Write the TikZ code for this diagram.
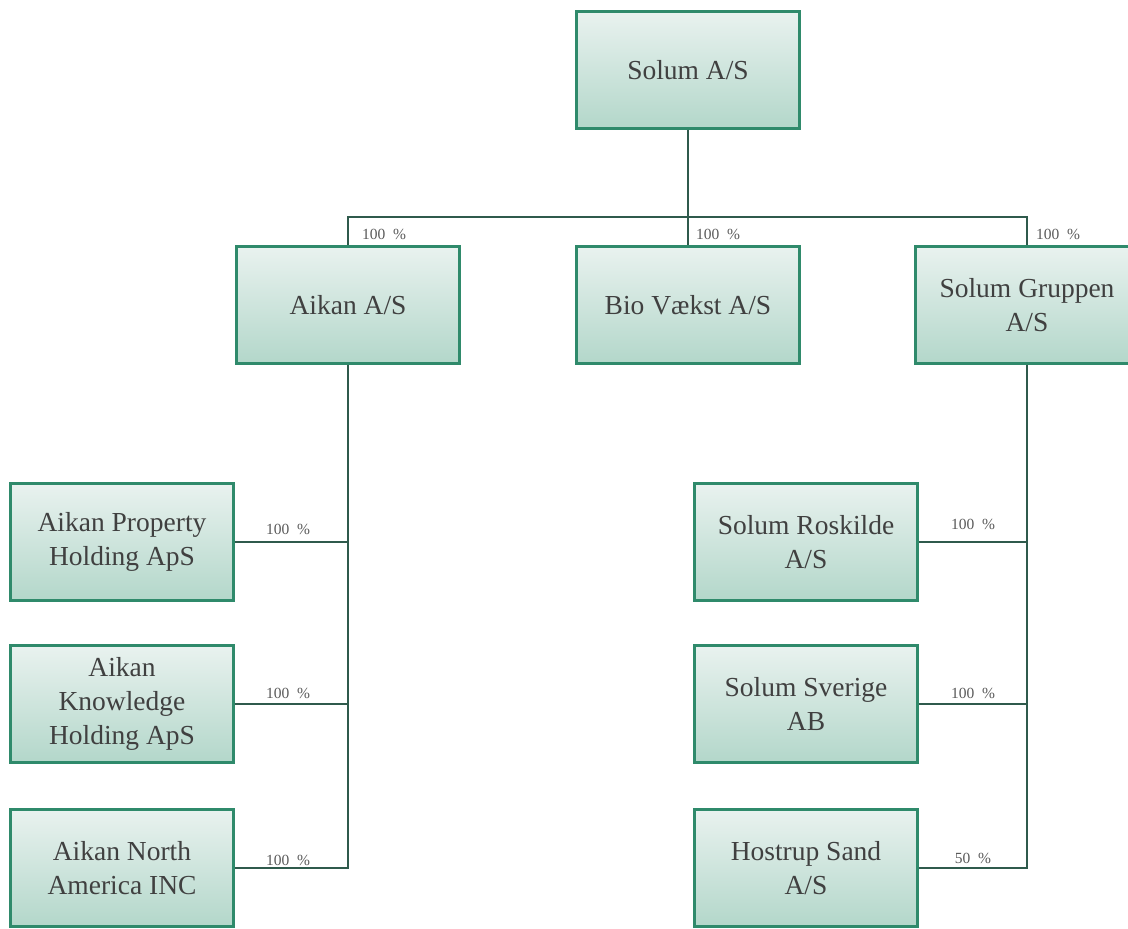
\documentclass[tikz,border=0pt]{standalone}
\usepackage{fontspec}
\setmainfont{Liberation Serif}
\definecolor{boxline}{HTML}{2F8A6B}
\definecolor{boxtop}{HTML}{E9F2EF}
\definecolor{boxbot}{HTML}{B3D7CA}
\definecolor{conncol}{HTML}{2F5A4C}
\definecolor{txtcol}{HTML}{404040}
\definecolor{labcol}{HTML}{5A5A5A}
\tikzset{
  orgbox/.style={draw=boxline, line width=2.4pt, top color=boxtop, bottom color=boxbot,
    minimum width=223pt, minimum height=117pt, inner sep=0pt, align=center,
    text=txtcol, font=\fontsize{27.5}{34}\selectfont},
  conn/.style={draw=conncol, line width=1.5pt},
  pct/.style={text=labcol, font=\fontsize{15.5}{17}\selectfont, inner sep=0pt}
}
\begin{document}
\begin{tikzpicture}[x=1pt,y=-1pt]
\useasboundingbox[fill=white] (0,0) rectangle (1128,929);
\coordinate (bar) at (688,217);
\node[orgbox] (solum) at (688,70) {Solum A/S};
\node[orgbox] (aikan) at (348,305) {Aikan A/S};
\node[orgbox] (bio) at (688,305) {Bio Vækst A/S};
\node[orgbox] (grp) at (1027,305) {Solum Gruppen\\A/S};
\node[orgbox] (a1) at (122,542) {Aikan Property\\Holding ApS};
\node[orgbox] (a2) at (122,704) {Aikan\\Knowledge\\Holding ApS};
\node[orgbox] (a3) at (122,868) {Aikan North\\America INC};
\node[orgbox] (s1) at (806,542) {Solum Roskilde\\A/S};
\node[orgbox] (s2) at (806,704) {Solum Sverige\\AB};
\node[orgbox] (s3) at (806,868) {Hostrup Sand\\A/S};
\begin{scope}[conn]
\draw (solum.south) -- (bio.north);
\draw (aikan.north) |- (bar) -| (grp.north);
\draw (aikan.south) |- (a3.east);
\draw (a1.east) -- (a1.east -| aikan.south);
\draw (a2.east) -- (a2.east -| aikan.south);
\draw (grp.south) |- (s3.east);
\draw (s1.east) -- (s1.east -| grp.south);
\draw (s2.east) -- (s2.east -| grp.south);
\end{scope}
\node[pct, anchor=west] (p1) at (362,234) {100\ \ \%};
\node[pct, anchor=west] (p2) at (696,234) {100\ \ \%};
\node[pct, anchor=west] (p3) at (1036,234) {100\ \ \%};
\node[pct] (pa1) at (288,529) {100\ \ \%};
\node[pct] (pa2) at (288,693) {100\ \ \%};
\node[pct] (pa3) at (288,860) {100\ \ \%};
\node[pct] (ps1) at (973,524) {100\ \ \%};
\node[pct] (ps2) at (973,693) {100\ \ \%};
\node[pct] (ps3) at (973,858) {50\ \ \%};
\end{tikzpicture}
\end{document}
